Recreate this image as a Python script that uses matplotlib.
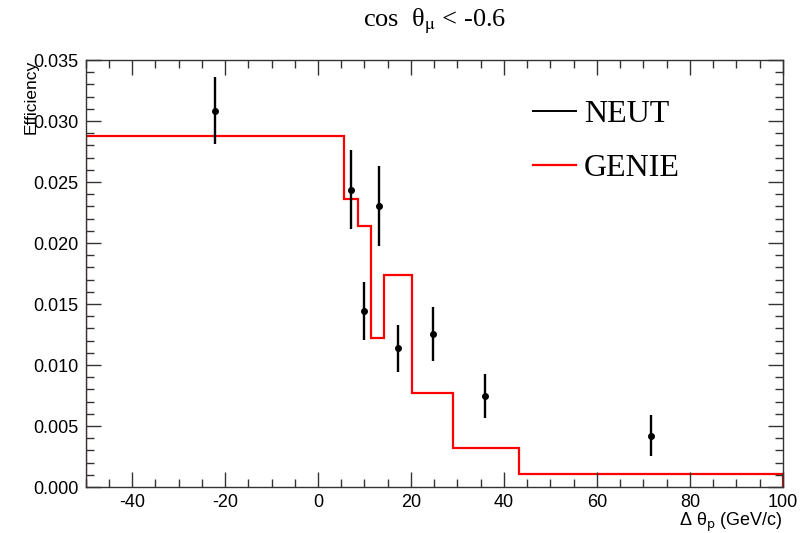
import numpy as np
import matplotlib.pyplot as plt
from matplotlib.lines import Line2D
from matplotlib.ticker import MultipleLocator

plt.rcParams['font.family'] = ['Liberation Sans', 'DejaVu Sans']
plt.rcParams['mathtext.fontset'] = 'stix'

# GENIE histogram (bin edges and contents)
genie_edges = [-50, 5.6, 8.6, 11.4, 14.2, 20.2, 29.0, 43.3, 100]
genie_eff = [0.0288, 0.0236, 0.0214, 0.0122, 0.0174, 0.0077, 0.0032, 0.00107]

# NEUT points with errors
neut_x = [-22.1, 7.1, 9.9, 13.1, 17.3, 24.7, 36.0, 71.7]
neut_eff = [0.03086, 0.02438, 0.01444, 0.02305, 0.01137, 0.01255, 0.00744, 0.00421]
neut_err = [0.00272, 0.00321, 0.00238, 0.00328, 0.00194, 0.00224, 0.0018, 0.00167]

fig = plt.figure(figsize=(8.02, 5.33), dpi=100)
ax = fig.add_axes([0.1067, 0.0863, 0.8694, 0.8011])

ax.stairs(genie_eff, genie_edges, color='red', lw=1.6)
ax.errorbar(neut_x, neut_eff, yerr=neut_err, fmt='o', color='black',
            ms=4, elinewidth=1.7, capsize=0)

ax.set_xlim(-50, 100)
ax.set_ylim(0, 0.035)
ax.xaxis.set_major_locator(MultipleLocator(20))
ax.xaxis.set_minor_locator(MultipleLocator(5))
ax.yaxis.set_major_locator(MultipleLocator(0.005))
ax.yaxis.set_minor_locator(MultipleLocator(0.001))
ax.xaxis.set_major_formatter(lambda v, p: '%d' % v)
ax.yaxis.set_major_formatter(lambda v, p: '%.3f' % v)
ax.tick_params(which='both', direction='in', top=True, right=True,
               labelsize=13, width=1, color='#333333')
ax.tick_params(which='major', length=11, pad=5)
ax.tick_params(which='minor', length=6)
for s in ax.spines.values():
    s.set_linewidth(1)
    s.set_color('#333333')

# ROOT-style axis titles: y title sits over the top tick labels like the original
ax.set_ylabel('Efficiency', loc='top', fontsize=12.5)
ax.yaxis.set_label_coords(-0.068, 1.0)
ax.set_xlabel('Δ θ$_{\\mathrm{p}}$ (GeV/c)', loc='right', fontsize=13,
              math_fontfamily='dejavusans', labelpad=0)

ax.set_title('cos  θ$_{\\mathrm{\\mu}}$ < -0.6', family='Liberation Serif',
             fontsize=19, pad=24)

handles = [Line2D([], [], color='black', lw=1.4),
           Line2D([], [], color='red', lw=1.6)]
ax.legend(handles, ['NEUT', 'GENIE'], loc='upper left',
          bbox_to_anchor=(0.6, 0.975), frameon=False,
          prop={'family': 'Liberation Serif', 'size': 23},
          handlelength=1.35, handletextpad=0.25, labelspacing=0.78)

fig.savefig('out.png', dpi=100)
